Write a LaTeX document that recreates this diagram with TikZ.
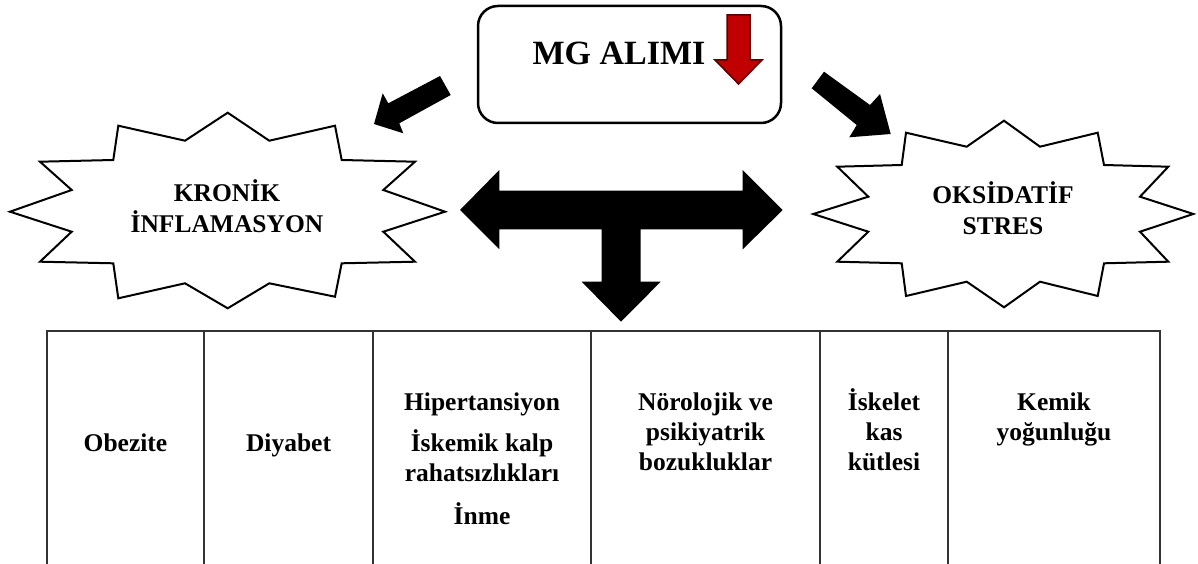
\documentclass[tikz,border=0pt]{standalone}
\usepackage{fontspec}
\setmainfont{Liberation Serif}
\definecolor{mgred}{HTML}{C00000}
\definecolor{mgredline}{HTML}{5A0000}
\begin{document}
\begin{tikzpicture}[x=1pt,y=-1pt]
\tikzset{
  burst/.style={draw=black, line width=2pt, fill=white, line join=miter},
  blockarrow/.style={fill=black, draw=none},
  celltext/.style={font=\fontsize{25.5}{30}\selectfont\bfseries, align=center, anchor=base, inner sep=0pt},
  bursttext/.style={font=\fontsize{25.5}{31}\selectfont\bfseries, align=center, inner sep=0pt},
  tline/.style={draw=black!80, line width=1.5pt},
  topbox/.style={draw=black, line width=2.5pt, rounded corners=20pt, minimum width=303pt, minimum height=117pt, inner sep=0pt}
}
\useasboundingbox (0,0) rectangle (1198,564);

% top box
\node[topbox] (mg) at (629.5,64.5) {};
\node[font=\fontsize{34}{40}\selectfont\bfseries, anchor=base, inner sep=0pt] (mgtext) at (619,65) {MG ALIMI};
\draw[fill=mgred, draw=mgredline, line width=1.5pt, line join=miter]
  (727,15) -- (750,15) -- (750,60) -- (762,60) -- (738.5,84) -- (715,60) -- (727,60) -- cycle;

% left burst
\draw[burst] (227.7,112.7) -- (269.3,140.7) -- (335,125.7) -- (341.7,160) -- (415,161.7) -- (383.3,190)
  -- (445,211.7) -- (383.3,231.7) -- (415,261.7) -- (341.7,263.3) -- (335,296.7) -- (269.3,283.3)
  -- (227.7,308.3) -- (185,283.3) -- (118.3,298.3) -- (113.3,263.3) -- (40,261.7) -- (71.7,231.7)
  -- (10,211.7) -- (71.7,190) -- (40,161.7) -- (113.3,160) -- (118.3,125.7) -- (185,140.7) -- cycle;
\node[bursttext] (kronik) at (227,206) {KRONİK\\İNFLAMASYON};

% right burst
\draw[burst] (1004,120.7) -- (1040,146.7) -- (1097.7,132.7) -- (1104,165) -- (1168.3,166.7) -- (1140,196.7)
  -- (1193.3,214) -- (1140,231.7) -- (1168.3,261.7) -- (1104,263.3) -- (1097.7,296) -- (1040,281.7)
  -- (1004,307.3) -- (966.7,281.7) -- (906,296) -- (901.7,263.3) -- (837.3,261.7) -- (868.3,231.7)
  -- (813.3,214) -- (868.3,196.7) -- (837.3,166.7) -- (901.7,165) -- (906,132.7) -- (966.7,146.7) -- cycle;
\node[bursttext] (oksidatif) at (1003,208) {OKSİDATİF\\STRES};

% diagonal arrows
\fill[blockarrow] (440,76) -- (450.7,95) -- (399.3,123.3) -- (403.3,133.3) -- (374,124) -- (382.7,93.3) -- (388.3,103.3) -- cycle;
\fill[blockarrow] (824,71.7) -- (870,105) -- (880,94) -- (890.7,134) -- (849.3,137.3) -- (856.7,125) -- (811.7,88.3) -- cycle;

% T arrow
\fill[blockarrow] (460,210) -- (499.3,170) -- (499.3,190.7) -- (742.7,190.7) -- (742.7,170) -- (782.7,210)
  -- (742.7,249.3) -- (742.7,229.3) -- (640.7,229.3) -- (640.7,281.7) -- (660.7,281.7) -- (621,321.7)
  -- (581.7,281.7) -- (601.7,281.7) -- (601.7,229.3) -- (499.3,229.3) -- (499.3,249.3) -- cycle;

% table
\draw[tline] (47,570) -- (47,331) -- (1160,331) -- (1160,570);
\foreach \xx in {204,373,591,820,948} { \draw[tline] (\xx,331) -- (\xx,570); }

\node[celltext] (obezite) at (125.5,451) {Obezite};
\node[celltext] (diyabet) at (288.5,451) {Diyabet};
\node[celltext] (hiper) at (482,410) {Hipertansiyon};
\node[celltext] (iskemik) at (482,451) {İskemik kalp};
\node[celltext] (rahat) at (482,481) {rahatsızlıkları};
\node[celltext] (inme) at (482,524) {İnme};
\node[celltext] (noro1) at (705.5,410) {Nörolojik ve};
\node[celltext] (noro2) at (705.5,440) {psikiyatrik};
\node[celltext] (noro3) at (705.5,470) {bozukluklar};
\node[celltext] (isk1) at (884,410) {İskelet};
\node[celltext] (isk2) at (884,440) {kas};
\node[celltext] (isk3) at (884,470) {kütlesi};
\node[celltext] (kemik1) at (1054,410) {Kemik};
\node[celltext] (kemik2) at (1054,440) {yoğunluğu};
\end{tikzpicture}
\end{document}
